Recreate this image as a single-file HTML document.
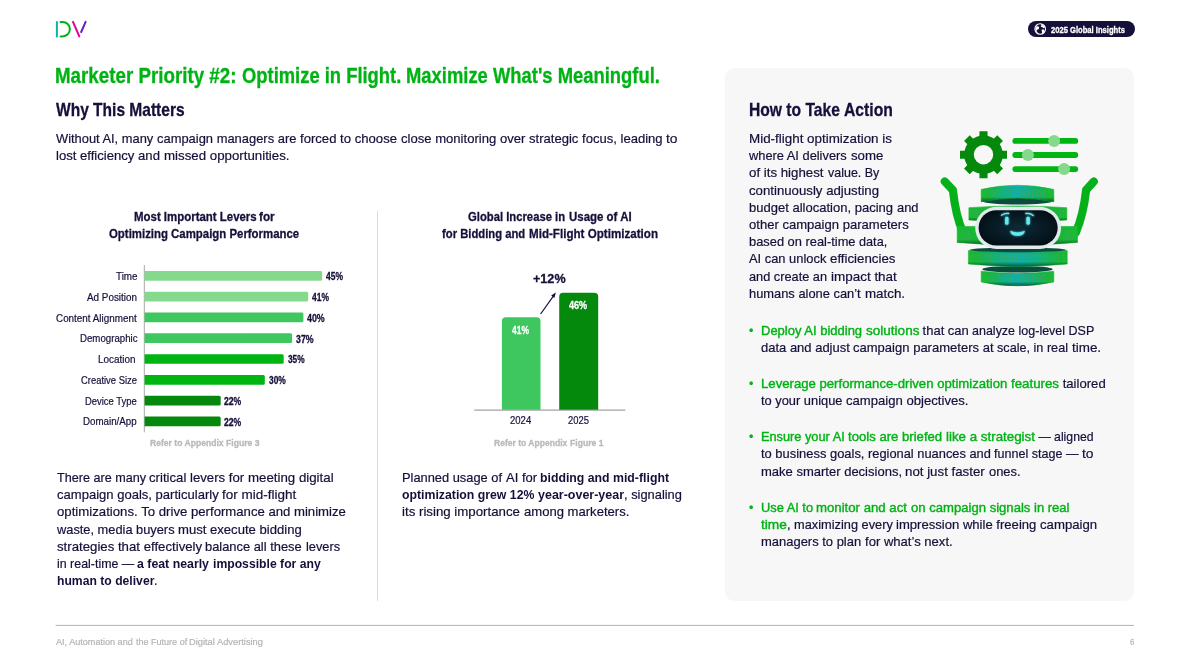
<!DOCTYPE html>
<html lang="en"><head><meta charset="utf-8"><title>Marketer Priority #2</title>
<style>
html,body{margin:0;padding:0;background:#fff;}
body{width:1190px;height:669px;position:relative;overflow:hidden;font-family:"Liberation Sans", sans-serif;}
.l{margin:0;padding:0;}
.t{position:absolute;display:block;white-space:pre;line-height:1;transform-origin:0 0;margin:0;padding:0;font-weight:400;-webkit-text-stroke:0.2px currentColor;}
.b{font-weight:700;-webkit-text-stroke:0;}
.cb{-webkit-text-stroke:0.3px currentColor;}
.m5{-webkit-text-stroke:0.4px currentColor;}
svg{position:absolute;left:0;top:0;}
</style></head><body>
<div style="position:absolute;left:725px;top:68px;width:408.8px;height:533.2px;border-radius:9.6px;background:#f7f7f7"></div>
<div style="position:absolute;left:1028px;top:21px;width:106.5px;height:16px;border-radius:8px;background:#14103a"></div>
<svg width="1190" height="669" viewBox="0 0 1190 669">
<g fill="none" stroke-width="2" stroke-linecap="round"><path d="M56.9 21.9V36.4" stroke="#0ab3a8"/><path d="M60.6 21.9H62.6A7.25 7.25 0 0 1 62.6 36.4H60.6" stroke="#00b315"/><path d="M73 21.9L79.3 36.4" stroke="#e3009a"/><path d="M85.6 21.9L81.2 32" stroke="#6a1fc2"/></g>
<g transform="translate(1040.2,29)"><circle r="5.3" fill="none" stroke="#fff" stroke-width="1.1"/><path d="M-3.8 -2.6C-2 -3.2 -0.6 -2.2 -1.2 -0.6C-1.8 0.8 -3.4 0.2 -3.6 1.8C-3.7 3 -2.4 3.6 -2 4.8L-3.4 4C-4.8 2.6 -5.2 -0.6 -3.8 -2.6Z" fill="#fff"/><path d="M0.6 -5C2.6 -4.6 4.2 -3.4 4.8 -1.6L3.2 -0.8L2 -2L0.4 -2.2L1.2 -3.6Z" fill="#fff"/><path d="M1.4 0.6L3.6 0.4L4.6 2.2L3 4.4L1.8 3.2Z" fill="#fff"/></g>
<rect x="377" y="211" width="1" height="390" fill="#dcdcdc"/>
<rect x="55.6" y="624.9" width="1078.4" height="1" fill="#b3b3b3"/>
<rect x="143.8" y="265" width="1" height="167.3" fill="#a9a9a9"/>
<path d="M144.6 271.00H320.6a1.5 1.5 0 0 1 1.5 1.5v6.7a1.5 1.5 0 0 1 -1.5 1.5H144.6Z" fill="#85d98d"/>
<path d="M144.6 291.79H306.7a1.5 1.5 0 0 1 1.5 1.5v6.7a1.5 1.5 0 0 1 -1.5 1.5H144.6Z" fill="#85d98d"/>
<path d="M144.6 312.58H301.9a1.5 1.5 0 0 1 1.5 1.5v6.7a1.5 1.5 0 0 1 -1.5 1.5H144.6Z" fill="#3dc75e"/>
<path d="M144.6 333.37H290.6a1.5 1.5 0 0 1 1.5 1.5v6.7a1.5 1.5 0 0 1 -1.5 1.5H144.6Z" fill="#3dc75e"/>
<path d="M144.6 354.16H282.2a1.5 1.5 0 0 1 1.5 1.5v6.7a1.5 1.5 0 0 1 -1.5 1.5H144.6Z" fill="#00b412"/>
<path d="M144.6 374.95H263.3a1.5 1.5 0 0 1 1.5 1.5v6.7a1.5 1.5 0 0 1 -1.5 1.5H144.6Z" fill="#00b412"/>
<path d="M144.6 395.74H219.2a1.5 1.5 0 0 1 1.5 1.5v6.7a1.5 1.5 0 0 1 -1.5 1.5H144.6Z" fill="#05890d"/>
<path d="M144.6 416.53H219.2a1.5 1.5 0 0 1 1.5 1.5v6.7a1.5 1.5 0 0 1 -1.5 1.5H144.6Z" fill="#05890d"/>
<rect x="474.2" y="409.6" width="151.2" height="1" fill="#8c8c8c"/>
<path d="M501.9 409.8V321.2a4 4 0 0 1 4 -4H536.5a4 4 0 0 1 4 4V409.8Z" fill="#3dc75e"/>
<path d="M559.2 409.8V296.8a4 4 0 0 1 4 -4H594.2a4 4 0 0 1 4 4V409.8Z" fill="#05890d"/>
<path d="M540.6 314L554.6 294.4" stroke="#14103a" stroke-width="1.2" fill="none"/>
<path d="M555.8 292.6L551.2 295.6L554.4 297.9Z" fill="#14103a"/>
<defs><linearGradient id="dg" x1="0" x2="1" y1="0" y2="0"><stop offset="0" stop-color="#1bbb2e"/><stop offset="0.08" stop-color="#17b838"/><stop offset="0.3" stop-color="#10b282"/><stop offset="0.5" stop-color="#0eafae"/><stop offset="0.7" stop-color="#10b282"/><stop offset="0.92" stop-color="#17b838"/><stop offset="1" stop-color="#1bbb2e"/></linearGradient><linearGradient id="dg2" x1="0" x2="1" y1="0" y2="0"><stop offset="0" stop-color="#1abb30"/><stop offset="0.5" stop-color="#12b04a"/><stop offset="1" stop-color="#1abb30"/></linearGradient><radialGradient id="fg" cx="0.5" cy="0.5" r="0.6"><stop offset="0" stop-color="#0d2a36"/><stop offset="0.7" stop-color="#06161f"/><stop offset="1" stop-color="#030d14"/></radialGradient><filter id="glow" x="-50%" y="-50%" width="200%" height="200%"><feGaussianBlur stdDeviation="0.9" result="b"/><feMerge><feMergeNode in="b"/><feMergeNode in="SourceGraphic"/></feMerge></filter><filter id="soft" x="-10%" y="-10%" width="120%" height="120%"><feGaussianBlur stdDeviation="0.35"/></filter><linearGradient id="sh" x1="0" x2="0" y1="0" y2="1"><stop offset="0" stop-color="#7dff8a" stop-opacity="0.12"/><stop offset="0.25" stop-color="#000" stop-opacity="0"/><stop offset="0.7" stop-color="#003a20" stop-opacity="0"/><stop offset="1" stop-color="#003a20" stop-opacity="0.7"/></linearGradient></defs>
<g id="robot">
<path d="M1001.80 150.65L1007.00 150.65L1007.00 158.75L1001.80 158.75ZM999.30 164.78L1002.98 168.45L997.25 174.18L993.58 170.50ZM987.55 173.00L987.55 178.20L979.45 178.20L979.45 173.00ZM973.42 170.50L969.75 174.18L964.02 168.45L967.70 164.78ZM965.20 158.75L960.00 158.75L960.00 150.65L965.20 150.65ZM967.70 144.62L964.02 140.95L969.75 135.22L973.42 138.90ZM979.45 136.40L979.45 131.20L987.55 131.20L987.55 136.40ZM993.58 138.90L997.25 135.22L1002.98 140.95L999.30 144.62Z" fill="#05890d"/>
<circle cx="983.5" cy="154.7" r="14.5" fill="none" stroke="#05890d" stroke-width="9.600000000000001"/>
<path d="M1015.3 140.9H1075.3" stroke="#00b412" stroke-width="5.8" stroke-linecap="round" fill="none"/>
<path d="M1015.3 155.0H1075.3" stroke="#00b412" stroke-width="5.8" stroke-linecap="round" fill="none"/>
<path d="M1015.3 169.1H1075.3" stroke="#00b412" stroke-width="5.8" stroke-linecap="round" fill="none"/>
<circle cx="1054.1" cy="140.9" r="6.0" fill="#85d98d"/>
<circle cx="1027.9" cy="155.0" r="6.0" fill="#85d98d"/>
<circle cx="1064.1" cy="169.1" r="6.0" fill="#85d98d"/>
<path d="M944.8 181.5L952.9 190.1C954.6 205.9 957.2 219.7 963.2 232.6" fill="none" stroke="#06b01a" stroke-width="8.2" stroke-linecap="round" stroke-linejoin="round"/>
<path d="M1093.8 181.5L1086.1 190.1C1084.4 205.9 1081.3 219.7 1075.8 232.6" fill="none" stroke="#06b01a" stroke-width="8.2" stroke-linecap="round" stroke-linejoin="round"/>
<path d="M981.2 271.2Q1017.5 275.4 1053.8 271.2L1053.8 281.9Q1017.5 289.8 981.2 281.9Z" fill="url(#dg)" stroke="#14b72e" stroke-width="0.6" stroke-linejoin="round"/>
<path d="M981.2 271.2Q1017.5 275.4 1053.8 271.2L1053.8 281.9Q1017.5 289.8 981.2 281.9Z" fill="url(#sh)"/>
<ellipse cx="1017.5" cy="269.2" rx="35.2" ry="3.3" fill="#0a4d3e"/>
<path d="M968.4 250.6Q1017.8 253.4 1067.2 250.6L1067.2 264.0Q1017.8 268.8 968.4 264.0Z" fill="url(#dg)" stroke="#14b72e" stroke-width="0.6" stroke-linejoin="round"/>
<path d="M968.4 250.6Q1017.8 253.4 1067.2 250.6L1067.2 264.0Q1017.8 268.8 968.4 264.0Z" fill="url(#sh)"/>
<ellipse cx="1017.8" cy="249.9" rx="48.2" ry="2.4" fill="#0a4d3e"/>
<path d="M968.9 207.7Q1017.8 204.2 1066.8 207.7L1066.8 220.0Q1017.8 223.5 968.9 220.0Z" fill="url(#dg2)" stroke="#14b72e" stroke-width="0.6" stroke-linejoin="round"/>
<path d="M968.9 207.7Q1017.8 204.2 1066.8 207.7L1066.8 220.0Q1017.8 223.5 968.9 220.0Z" fill="url(#sh)"/>
<ellipse cx="1017.5" cy="201.1" rx="35.2" ry="3.4" fill="#0a4d3e"/>
<path d="M981.2 189.4Q1017.5 181.2 1053.8 189.4L1053.8 201.8Q1017.5 194.2 981.2 201.8Z" fill="url(#dg)" stroke="#14b72e" stroke-width="0.6" stroke-linejoin="round"/>
<path d="M981.2 189.4Q1017.5 181.2 1053.8 189.4L1053.8 201.8Q1017.5 194.2 981.2 201.8Z" fill="url(#sh)"/>
<path d="M957.2 226.6Q1017.3 225.2 1077.5 226.6L1077.5 242.4Q1017.3 247.9 957.2 242.4Z" fill="url(#dg2)" stroke="#14b72e" stroke-width="0.6" stroke-linejoin="round"/>
<path d="M957.2 226.6Q1017.3 225.2 1077.5 226.6L1077.5 242.4Q1017.3 247.9 957.2 242.4Z" fill="url(#sh)"/>
<text x="982.3" y="197.7" textLength="70.3" lengthAdjust="spacing" font-family="Liberation Sans, sans-serif" font-size="10.4" fill="#3fa85e" fill-opacity="0.8">100101101011</text>
<text x="970.2" y="218.0" textLength="9.6" lengthAdjust="spacing" font-family="Liberation Sans, sans-serif" font-size="10.4" fill="#3fa85e" fill-opacity="0.8">01</text>
<text x="1057.5" y="218.0" textLength="8.9" lengthAdjust="spacing" font-family="Liberation Sans, sans-serif" font-size="10.4" fill="#3fa85e" fill-opacity="0.8">11</text>
<text x="960.3" y="238.9" textLength="10.7" lengthAdjust="spacing" font-family="Liberation Sans, sans-serif" font-size="10.4" fill="#3fa85e" fill-opacity="0.8">01</text>
<text x="1064.1" y="238.9" textLength="10.7" lengthAdjust="spacing" font-family="Liberation Sans, sans-serif" font-size="10.4" fill="#3fa85e" fill-opacity="0.8">10</text>
<text x="968.9" y="262.3" textLength="97.6" lengthAdjust="spacing" font-family="Liberation Sans, sans-serif" font-size="10.4" fill="#3fa85e" fill-opacity="0.8">0101100010101011</text>
<text x="982.3" y="281.5" textLength="70.3" lengthAdjust="spacing" font-family="Liberation Sans, sans-serif" font-size="10.4" fill="#3fa85e" fill-opacity="0.8">100101101011</text>
<rect x="975.2" y="206.8" width="85.9" height="42.1" rx="21.1" fill="#e2eaeb"/>
<rect x="978.6" y="210.2" width="79.1" height="35.3" rx="17.7" fill="url(#fg)"/>
<g filter="url(#glow)" fill="#62ecf3" stroke="#62ecf3">
<rect x="1005.1" y="216.8" width="3.4" height="7.9" rx="1.4" stroke="none"/>
<rect x="1026.4" y="216.8" width="3.4" height="7.9" rx="1.4" stroke="none"/>
<path d="M1001.4 215.2Q1005.0 212.8 1008.7 213.5" fill="none" stroke-width="1.3" stroke-linecap="round"/>
<path d="M1025.9 213.5Q1030.0 212.8 1033.3 215.6" fill="none" stroke-width="1.3" stroke-linecap="round"/>
<path d="M1010.1 230.7Q1017.5 234.1 1024.9 230.7Q1024.2 235.5 1017.5 235.8Q1010.8 235.5 1010.1 230.7Z" stroke="none"/>
</g>
</g>
</svg>
<div class="l"><span class="t b cb" style="left:55.40px;top:66.02px;font-size:21.3px;color:#00b315;transform:scaleX(0.8807)">Marketer Priority #2: </span><span class="t b cb" style="left:242.02px;top:66.02px;font-size:21.3px;color:#00b315;transform:scaleX(0.8632)">Optimize in Flight. </span><span class="t b cb" style="left:406.45px;top:66.02px;font-size:21.3px;color:#00b315;transform:scaleX(0.8644)">Maximize What's Meaningful.</span></div>
<div class="l"><span class="t b cb" style="left:56.40px;top:100.57px;font-size:18.4px;color:#14103a;transform:scaleX(0.8446)">Why This Matters</span></div>
<div class="l"><span class="t b cb" style="left:748.50px;top:100.57px;font-size:18.4px;color:#14103a;transform:scaleX(0.8497)">How to Take </span><span class="t b cb" style="left:843.72px;top:100.57px;font-size:18.4px;color:#14103a;transform:scaleX(0.8542)">Action</span></div>
<div class="l"><span class="t" style="left:56.40px;top:131.97px;font-size:13.33px;color:#14103a;transform:scaleX(0.9651)">Without AI, many </span><span class="t" style="left:157.20px;top:131.97px;font-size:13.33px;color:#14103a;transform:scaleX(0.9697)">campaign managers are </span><span class="t" style="left:300.17px;top:131.97px;font-size:13.33px;color:#14103a;transform:scaleX(0.9845)">forced to choose </span><span class="t" style="left:400.84px;top:131.97px;font-size:13.33px;color:#14103a;transform:scaleX(0.9815)">close monitoring over </span><span class="t" style="left:528.82px;top:131.97px;font-size:13.33px;color:#14103a;transform:scaleX(0.9803)">strategic focus, leading </span><span class="t" style="left:666.10px;top:131.97px;font-size:13.33px;color:#14103a;transform:scaleX(1.0364)">to</span></div>
<div class="l"><span class="t" style="left:56.40px;top:148.97px;font-size:13.33px;color:#14103a;transform:scaleX(0.9832)">lost efficiency and </span><span class="t" style="left:163.97px;top:148.97px;font-size:13.33px;color:#14103a;transform:scaleX(0.9968)">missed opportunities.</span></div>
<div class="l"><span class="t b cb" style="left:133.60px;top:209.97px;font-size:13.33px;color:#14103a;transform:scaleX(0.8582)">Most Important Levers </span><span class="t b cb" style="left:259.44px;top:209.97px;font-size:13.33px;color:#14103a;transform:scaleX(0.8804)">for</span></div>
<div class="l"><span class="t b cb" style="left:109.40px;top:226.87px;font-size:13.33px;color:#14103a;transform:scaleX(0.8560)">Optimizing Campaign Performance</span></div>
<div class="l"><span class="t b cb" style="left:468.40px;top:209.97px;font-size:13.33px;color:#14103a;transform:scaleX(0.8456)">Global Increase in </span><span class="t b cb" style="left:568.61px;top:209.97px;font-size:13.33px;color:#14103a;transform:scaleX(0.8594)">Usage of AI</span></div>
<div class="l"><span class="t b cb" style="left:442.20px;top:226.87px;font-size:13.33px;color:#14103a;transform:scaleX(0.8448)">for Bidding and </span><span class="t b cb" style="left:528.51px;top:226.87px;font-size:13.33px;color:#14103a;transform:scaleX(0.8712)">Mid-Flight Optimization</span></div>
<div class="l"><span class="t" style="left:115.50px;top:270.92px;font-size:10.9px;color:#14103a;transform:scaleX(0.9035)">Time</span></div>
<div class="l"><span class="t b cb" style="left:326.20px;top:271.18px;font-size:10.6px;color:#14103a;transform:scaleX(0.7971)">45%</span></div>
<div class="l"><span class="t" style="left:87.00px;top:291.71px;font-size:10.9px;color:#14103a;transform:scaleX(0.9075)">Ad Position</span></div>
<div class="l"><span class="t b cb" style="left:312.00px;top:291.97px;font-size:10.6px;color:#14103a;transform:scaleX(0.7971)">41%</span></div>
<div class="l"><span class="t" style="left:56.30px;top:312.50px;font-size:10.9px;color:#14103a;transform:scaleX(0.9067)">Content Alignment</span></div>
<div class="l"><span class="t b cb" style="left:307.10px;top:312.76px;font-size:10.6px;color:#14103a;transform:scaleX(0.8348)">40%</span></div>
<div class="l"><span class="t" style="left:79.50px;top:333.29px;font-size:10.9px;color:#14103a;transform:scaleX(0.8876)">Demographic</span></div>
<div class="l"><span class="t b cb" style="left:296.30px;top:333.55px;font-size:10.6px;color:#14103a;transform:scaleX(0.8301)">37%</span></div>
<div class="l"><span class="t" style="left:98.40px;top:354.08px;font-size:10.9px;color:#14103a;transform:scaleX(0.9105)">Location</span></div>
<div class="l"><span class="t b cb" style="left:288.20px;top:354.34px;font-size:10.6px;color:#14103a;transform:scaleX(0.7829)">35%</span></div>
<div class="l"><span class="t" style="left:81.00px;top:374.87px;font-size:10.9px;color:#14103a;transform:scaleX(0.8647)">Creative Size</span></div>
<div class="l"><span class="t b cb" style="left:269.10px;top:375.13px;font-size:10.6px;color:#14103a;transform:scaleX(0.7923)">30%</span></div>
<div class="l"><span class="t" style="left:85.30px;top:395.66px;font-size:10.9px;color:#14103a;transform:scaleX(0.8655)">Device Type</span></div>
<div class="l"><span class="t b cb" style="left:224.40px;top:395.92px;font-size:10.6px;color:#14103a;transform:scaleX(0.8112)">22%</span></div>
<div class="l"><span class="t" style="left:83.30px;top:416.45px;font-size:10.9px;color:#14103a;transform:scaleX(0.8959)">Domain/App</span></div>
<div class="l"><span class="t b cb" style="left:224.40px;top:416.71px;font-size:10.6px;color:#14103a;transform:scaleX(0.8112)">22%</span></div>
<div class="l"><span class="t b cb" style="left:149.60px;top:438.12px;font-size:9.6px;color:#b9b9b9;transform:scaleX(0.8948)">Refer to Appendix </span><span class="t b cb" style="left:225.60px;top:438.12px;font-size:9.6px;color:#b9b9b9;transform:scaleX(0.9002)">Figure 3</span></div>
<div class="l"><span class="t b cb" style="left:494.40px;top:438.12px;font-size:9.6px;color:#b9b9b9;transform:scaleX(0.8907)">Refer to Appendix </span><span class="t b cb" style="left:570.05px;top:438.12px;font-size:9.6px;color:#b9b9b9;transform:scaleX(0.8961)">Figure 1</span></div>
<div class="l"><span class="t b cb" style="left:533.00px;top:272.34px;font-size:13.6px;color:#14103a;transform:scaleX(0.9273)">+12%</span></div>
<div class="l"><span class="t b cb" style="left:512.00px;top:324.98px;font-size:10.6px;color:#ffffff;transform:scaleX(0.8018)">41%</span></div>
<div class="l"><span class="t b cb" style="left:569.00px;top:300.28px;font-size:10.6px;color:#ffffff;transform:scaleX(0.8584)">46%</span></div>
<div class="l"><span class="t" style="left:510.20px;top:415.34px;font-size:11.0px;color:#14103a;transform:scaleX(0.8659)">2024</span></div>
<div class="l"><span class="t" style="left:567.50px;top:415.34px;font-size:11.0px;color:#14103a;transform:scaleX(0.8536)">2025</span></div>
<div class="l"><span class="t" style="left:56.50px;top:470.97px;font-size:13.33px;color:#14103a;transform:scaleX(0.9464)">There are many </span><span class="t" style="left:149.04px;top:470.97px;font-size:13.33px;color:#14103a;transform:scaleX(0.9886)">critical levers for </span><span class="t" style="left:247.88px;top:470.97px;font-size:13.33px;color:#14103a;transform:scaleX(0.9958)">meeting digital</span></div>
<div class="l"><span class="t" style="left:56.50px;top:488.17px;font-size:13.33px;color:#14103a;transform:scaleX(0.9786)">campaign goals, particularly </span><span class="t" style="left:221.80px;top:488.17px;font-size:13.33px;color:#14103a;transform:scaleX(1.0115)">for mid-flight</span></div>
<div class="l"><span class="t" style="left:56.50px;top:505.37px;font-size:13.33px;color:#14103a;transform:scaleX(0.9907)">optimizations. To drive </span><span class="t" style="left:190.57px;top:505.37px;font-size:13.33px;color:#14103a;transform:scaleX(0.9859)">performance and minimize</span></div>
<div class="l"><span class="t" style="left:56.50px;top:522.57px;font-size:13.33px;color:#14103a;transform:scaleX(0.9617)">waste, media buyers </span><span class="t" style="left:177.61px;top:522.57px;font-size:13.33px;color:#14103a;transform:scaleX(0.9823)">must execute bidding</span></div>
<div class="l"><span class="t" style="left:56.50px;top:539.77px;font-size:13.33px;color:#14103a;transform:scaleX(0.9912)">strategies that effectively </span><span class="t" style="left:205.34px;top:539.77px;font-size:13.33px;color:#14103a;transform:scaleX(0.9665)">balance all these </span><span class="t" style="left:305.61px;top:539.77px;font-size:13.33px;color:#14103a;transform:scaleX(0.9598)">levers</span></div>
<div class="l"><span class="t" style="left:56.50px;top:556.97px;font-size:13.33px;color:#14103a;transform:scaleX(0.9315)">in real-time — </span><span class="t b" style="left:137.22px;top:556.97px;font-size:13.33px;color:#14103a;transform:scaleX(0.9252)">a feat nearly </span><span class="t b" style="left:212.63px;top:556.97px;font-size:13.33px;color:#14103a;transform:scaleX(0.9147)">impossible for any</span></div>
<div class="l"><span class="t b" style="left:56.50px;top:574.17px;font-size:13.33px;color:#14103a;transform:scaleX(0.9133)">human to deliver</span><span class="t" style="left:153.91px;top:574.17px;font-size:13.33px;color:#14103a;transform:scaleX(0.9242)">.</span></div>
<div class="l"><span class="t" style="left:402.00px;top:470.97px;font-size:13.33px;color:#14103a;transform:scaleX(0.9639)">Planned usage of </span><span class="t" style="left:505.57px;top:470.97px;font-size:13.33px;color:#14103a;transform:scaleX(0.9769)">AI for </span><span class="t b" style="left:540.31px;top:470.97px;font-size:13.33px;color:#14103a;transform:scaleX(0.9219)">bidding and mid-flight</span></div>
<div class="l"><span class="t b" style="left:402.00px;top:488.17px;font-size:13.33px;color:#14103a;transform:scaleX(0.9217)">optimization grew 12% </span><span class="t b" style="left:537.83px;top:488.17px;font-size:13.33px;color:#14103a;transform:scaleX(0.9361)">year-over-year</span><span class="t" style="left:623.85px;top:488.17px;font-size:13.33px;color:#14103a;transform:scaleX(0.9646)">, signaling</span></div>
<div class="l"><span class="t" style="left:402.00px;top:505.37px;font-size:13.33px;color:#14103a;transform:scaleX(0.9957)">its rising importance </span><span class="t" style="left:523.69px;top:505.37px;font-size:13.33px;color:#14103a;transform:scaleX(0.9806)">among marketers.</span></div>
<div class="l"><span class="t" style="left:749.40px;top:131.97px;font-size:13.33px;color:#14103a;transform:scaleX(1.0052)">Mid-flight optimization is</span></div>
<div class="l"><span class="t" style="left:749.40px;top:149.17px;font-size:13.33px;color:#14103a;transform:scaleX(0.9627)">where AI delivers </span><span class="t" style="left:850.67px;top:149.17px;font-size:13.33px;color:#14103a;transform:scaleX(0.9931)">some</span></div>
<div class="l"><span class="t" style="left:749.40px;top:166.37px;font-size:13.33px;color:#14103a;transform:scaleX(0.9962)">of its highest </span><span class="t" style="left:827.63px;top:166.37px;font-size:13.33px;color:#14103a;transform:scaleX(0.9358)">value. By</span></div>
<div class="l"><span class="t" style="left:749.40px;top:183.57px;font-size:13.33px;color:#14103a;transform:scaleX(0.9914)">continuously adjusting</span></div>
<div class="l"><span class="t" style="left:749.40px;top:200.77px;font-size:13.33px;color:#14103a;transform:scaleX(0.9770)">budget allocation, pacing </span><span class="t" style="left:897.10px;top:200.77px;font-size:13.33px;color:#14103a;transform:scaleX(0.9687)">and</span></div>
<div class="l"><span class="t" style="left:749.40px;top:217.97px;font-size:13.33px;color:#14103a;transform:scaleX(0.9799)">other campaign parameters</span></div>
<div class="l"><span class="t" style="left:749.40px;top:235.17px;font-size:13.33px;color:#14103a;transform:scaleX(0.9648)">based on real-time </span><span class="t" style="left:859.48px;top:235.17px;font-size:13.33px;color:#14103a;transform:scaleX(0.9520)">data,</span></div>
<div class="l"><span class="t" style="left:749.40px;top:252.37px;font-size:13.33px;color:#14103a;transform:scaleX(0.9664)">AI can unlock </span><span class="t" style="left:830.31px;top:252.37px;font-size:13.33px;color:#14103a;transform:scaleX(0.9967)">efficiencies</span></div>
<div class="l"><span class="t" style="left:749.40px;top:269.57px;font-size:13.33px;color:#14103a;transform:scaleX(0.9571)">and create an </span><span class="t" style="left:830.96px;top:269.57px;font-size:13.33px;color:#14103a;transform:scaleX(1.0097)">impact that</span></div>
<div class="l"><span class="t" style="left:749.40px;top:286.77px;font-size:13.33px;color:#14103a;transform:scaleX(0.9662)">humans alone can’t </span><span class="t" style="left:864.67px;top:286.77px;font-size:13.33px;color:#14103a;transform:scaleX(1.0013)">match.</span></div>
<div class="l"><span class="t m5" style="left:760.80px;top:323.57px;font-size:13.33px;color:#00b315;transform:scaleX(0.9745)">Deploy AI bidding </span><span class="t m5" style="left:865.51px;top:323.57px;font-size:13.33px;color:#00b315;transform:scaleX(1.0163)">solutions</span><span class="t" style="left:918.98px;top:323.57px;font-size:13.33px;color:#14103a;transform:scaleX(0.9732)"> that can </span><span class="t" style="left:972.35px;top:323.57px;font-size:13.33px;color:#14103a;transform:scaleX(0.9376)">analyze log-level DSP</span></div>
<div class="l"><span class="t" style="left:749.00px;top:323.59px;font-size:13.3px;color:#00b315;transform:scaleX(0.9408)">•</span></div>
<div class="l"><span class="t" style="left:760.80px;top:340.77px;font-size:13.33px;color:#14103a;transform:scaleX(0.9746)">data and adjust </span><span class="t" style="left:853.25px;top:340.77px;font-size:13.33px;color:#14103a;transform:scaleX(0.9778)">campaign parameters at </span><span class="t" style="left:997.42px;top:340.77px;font-size:13.33px;color:#14103a;transform:scaleX(0.9485)">scale, in real </span><span class="t" style="left:1071.91px;top:340.77px;font-size:13.33px;color:#14103a;transform:scaleX(1.0067)">time.</span></div>
<div class="l"><span class="t m5" style="left:760.80px;top:376.87px;font-size:13.33px;color:#00b315;transform:scaleX(0.9866)">Leverage performance-driven optimization </span><span class="t m5" style="left:1010.79px;top:376.87px;font-size:13.33px;color:#00b315;transform:scaleX(0.9966)">features</span><span class="t" style="left:1058.80px;top:376.87px;font-size:13.33px;color:#14103a;transform:scaleX(0.9850)"> tailored</span></div>
<div class="l"><span class="t" style="left:749.00px;top:376.89px;font-size:13.3px;color:#00b315;transform:scaleX(0.9408)">•</span></div>
<div class="l"><span class="t" style="left:760.80px;top:394.07px;font-size:13.33px;color:#14103a;transform:scaleX(0.9645)">to your unique </span><span class="t" style="left:845.86px;top:394.07px;font-size:13.33px;color:#14103a;transform:scaleX(0.9839)">campaign objectives.</span></div>
<div class="l"><span class="t m5" style="left:760.80px;top:430.17px;font-size:13.33px;color:#00b315;transform:scaleX(0.9575)">Ensure your AI </span><span class="t m5" style="left:848.05px;top:430.17px;font-size:13.33px;color:#00b315;transform:scaleX(0.9850)">tools are briefed </span><span class="t m5" style="left:945.84px;top:430.17px;font-size:13.33px;color:#00b315;transform:scaleX(1.0004)">like a strategist</span><span class="t" style="left:1034.78px;top:430.17px;font-size:13.33px;color:#14103a;transform:scaleX(0.9195)"> — aligned</span></div>
<div class="l"><span class="t" style="left:749.00px;top:430.19px;font-size:13.3px;color:#00b315;transform:scaleX(0.9408)">•</span></div>
<div class="l"><span class="t" style="left:760.80px;top:447.37px;font-size:13.33px;color:#14103a;transform:scaleX(0.9696)">to business goals, </span><span class="t" style="left:867.85px;top:447.37px;font-size:13.33px;color:#14103a;transform:scaleX(0.9643)">regional nuances and </span><span class="t" style="left:994.35px;top:447.37px;font-size:13.33px;color:#14103a;transform:scaleX(0.9424)">funnel stage — </span><span class="t" style="left:1082.33px;top:447.37px;font-size:13.33px;color:#14103a;transform:scaleX(1.0364)">to</span></div>
<div class="l"><span class="t" style="left:760.80px;top:464.57px;font-size:13.33px;color:#14103a;transform:scaleX(0.9762)">make smarter decisions, </span><span class="t" style="left:905.41px;top:464.57px;font-size:13.33px;color:#14103a;transform:scaleX(0.9969)">not just faster </span><span class="t" style="left:988.87px;top:464.57px;font-size:13.33px;color:#14103a;transform:scaleX(0.9684)">ones.</span></div>
<div class="l"><span class="t m5" style="left:760.80px;top:500.67px;font-size:13.33px;color:#00b315;transform:scaleX(0.9622)">Use AI to </span><span class="t m5" style="left:816.41px;top:500.67px;font-size:13.33px;color:#00b315;transform:scaleX(0.9899)">monitor and act </span><span class="t m5" style="left:911.02px;top:500.67px;font-size:13.33px;color:#00b315;transform:scaleX(0.9826)">on campaign signals </span><span class="t m5" style="left:1034.06px;top:500.67px;font-size:13.33px;color:#00b315;transform:scaleX(0.9773)">in real</span></div>
<div class="l"><span class="t" style="left:749.00px;top:500.69px;font-size:13.3px;color:#00b315;transform:scaleX(0.9408)">•</span></div>
<div class="l"><span class="t m5" style="left:760.80px;top:517.87px;font-size:13.33px;color:#00b315;transform:scaleX(1.0279)">time</span><span class="t" style="left:786.69px;top:517.87px;font-size:13.33px;color:#14103a;transform:scaleX(0.9587)">, maximizing every </span><span class="t" style="left:896.04px;top:517.87px;font-size:13.33px;color:#14103a;transform:scaleX(0.9816)">impression while freeing </span><span class="t" style="left:1040.03px;top:517.87px;font-size:13.33px;color:#14103a;transform:scaleX(0.9893)">campaign</span></div>
<div class="l"><span class="t" style="left:760.80px;top:535.07px;font-size:13.33px;color:#14103a;transform:scaleX(0.9725)">managers to plan </span><span class="t" style="left:864.57px;top:535.07px;font-size:13.33px;color:#14103a;transform:scaleX(0.9806)">for what’s next.</span></div>
<div class="l"><span class="t" style="left:56.40px;top:636.99px;font-size:9.4px;color:#b4b4b4;transform:scaleX(0.9688)">AI, Automation and </span><span class="t" style="left:135.68px;top:636.99px;font-size:9.4px;color:#b4b4b4;transform:scaleX(0.9623)">the Future of </span><span class="t" style="left:189.34px;top:636.99px;font-size:9.4px;color:#b4b4b4;transform:scaleX(0.9926)">Digital Advertising</span></div>
<div class="l"><span class="t" style="left:1129.80px;top:636.99px;font-size:9.4px;color:#b4b4b4;transform:scaleX(0.8431)">6</span></div>
<div class="l"><span class="t b cb" style="left:1051.00px;top:24.89px;font-size:9.4px;color:#ffffff;transform:scaleX(0.8115)">2025 Global Insights</span></div>
</body></html>
